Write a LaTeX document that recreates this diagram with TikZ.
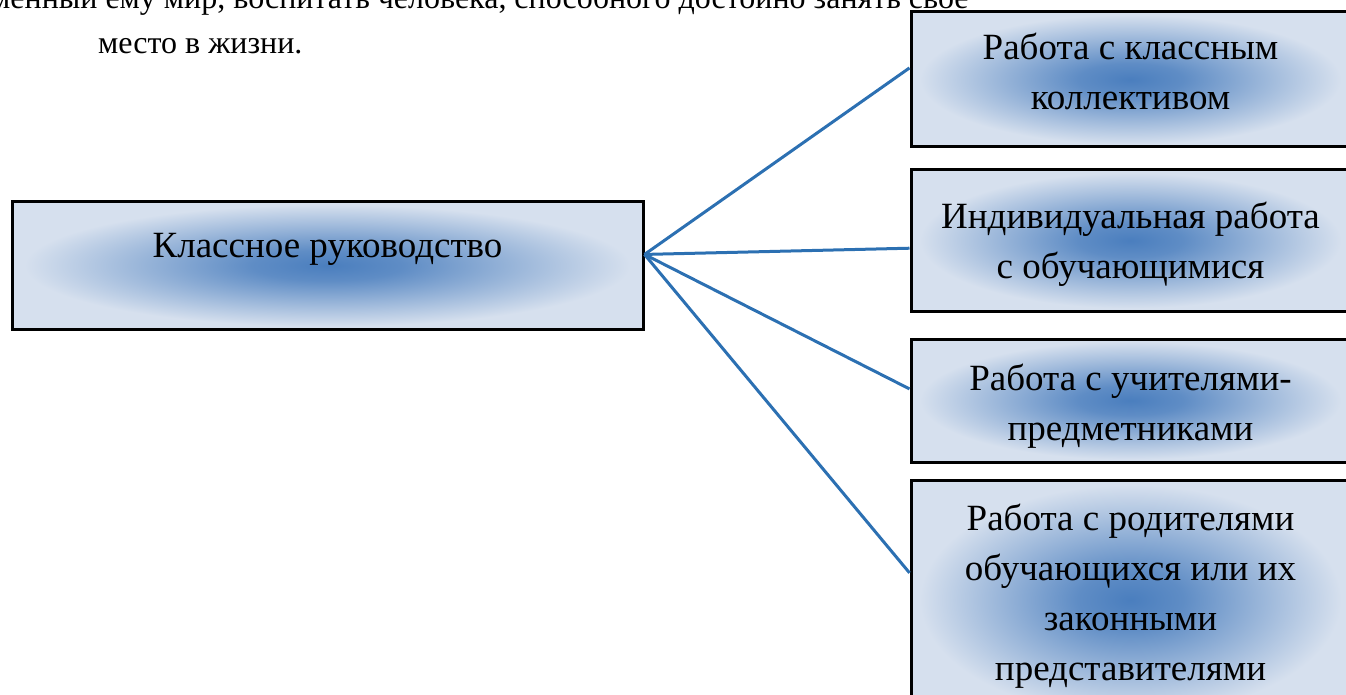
\documentclass[tikz,border=0pt]{standalone}
\usepackage{fontspec}
\setmainfont{Liberation Serif}
\usetikzlibrary{positioning}

\definecolor{boxpale}{HTML}{D6E0EE}
\definecolor{glowblue}{HTML}{4A7EBE}
\definecolor{linkblue}{HTML}{2C70B2}
\pgfdeclareradialshading{boxglow}{\pgfpoint{0bp}{0bp}}{color(0bp)=(glowblue); color(6bp)=(glowblue!85!boxpale); color(24bp)=(boxpale); color(50bp)=(boxpale)}

\begin{document}
\begin{tikzpicture}[
    x=1pt, y=-1pt,
    panel/.style={rectangle, draw=black, line width=3pt, shading=boxglow, inner sep=0pt},
    paneltext/.style={anchor=base, align=center, inner sep=0pt, font=\fontsize{37}{50}\selectfont},
    bodytext/.style={inner sep=0pt, font=\fontsize{32}{46}\selectfont},
    link/.style={draw=linkblue, line width=3pt}
]
    \useasboundingbox (0,0) rectangle (1346,695);

    % Body text above the scheme
    \node[bodytext, anchor=base west] (para1) at (-10,9) {менный ему мир, воспитать человека, способного достойно занять свое};
    \node[bodytext, anchor=base west] (para2) at (98,54) {место в жизни.};

    % Main block
    \node[panel, minimum width=631pt, minimum height=127pt] (lead) at (327.5,265.5) {};
    \node[paneltext] (leadtext) at (327.5,257) {Классное руководство};

    % Directions (text anchored at the last baseline)
    \node[panel, minimum width=439pt, minimum height=135pt] (r1) at (1130.5,79.5) {};
    \node[panel, minimum width=439pt, minimum height=141pt] (r2) at (1130.5,240.5) {};
    \node[panel, minimum width=439pt, minimum height=123pt] (r3) at (1130.5,400.5) {};
    \node[panel, minimum width=439pt, minimum height=240pt] (r4) at (1130.5,600) {};

    \node[paneltext] (r1text) at (1130.5,110) {Работа с классным\\коллективом};
    \node[paneltext] (r2text) at (1130.5,278) {Индивидуальная работа\\с обучающимися};
    \node[paneltext] (r3text) at (1130.5,440) {Работа с учителями-\\предметниками};
    \node[paneltext] (r4text) at (1130.5,680) {Работа с родителями\\обучающихся или их\\законными\\представителями};

    % Connections
    \draw[link] (lead.2) -- (r1.177);
    \draw[link] (lead.2) -- (r2.182);
    \draw[link] (lead.2) -- (r3.177);
    \draw[link] (lead.2) -- (r4.173);

\end{tikzpicture}
\end{document}
